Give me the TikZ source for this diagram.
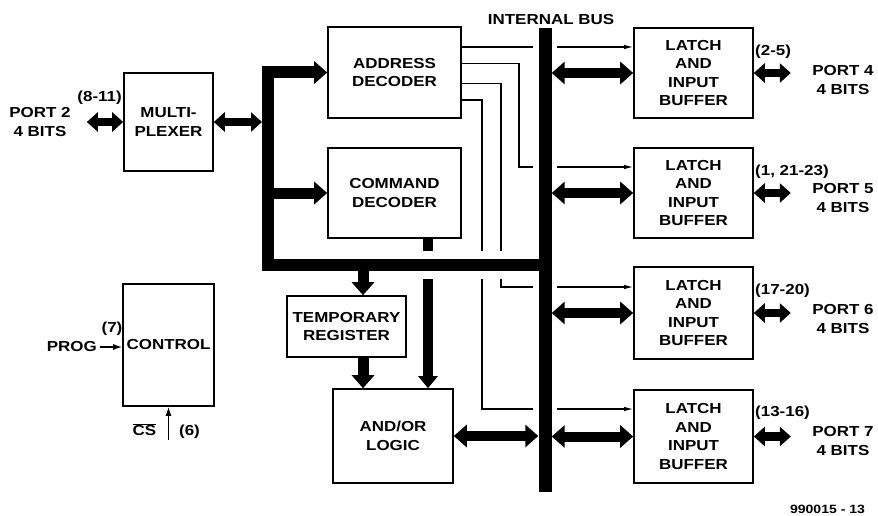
\documentclass[tikz,border=0pt]{standalone}
\usepackage{fontspec}
\setmainfont{Liberation Sans}[FakeStretch=1.17]
\usetikzlibrary{arrows.meta}
\begin{document}
\begin{tikzpicture}[x=1pt,y=-1pt,
  lbl/.style={font=\bfseries\fontsize{14.5}{18.5}\selectfont, inner sep=0pt, align=center},
  blk/.style={lbl, draw, line width=1.6pt},
  thk/.style={line width=11pt, -{Triangle[width=22pt,length=13pt]}},
  dbl/.style={line width=10pt, {Triangle[width=22pt,length=13pt]}-{Triangle[width=22pt,length=13pt]}},
  dbls/.style={line width=8.5pt, {Triangle[width=19pt,length=11pt]}-{Triangle[width=19pt,length=11pt]}},
  thn/.style={line width=1.2pt, -{Latex[length=9pt,width=4.5pt]}},
  inarr/.style={line width=1.4pt, -{Latex[length=9pt,width=6pt]}},
  halo/.style={white, line width=28pt}]
\useasboundingbox[fill=white] (0,0) rectangle (878,516);

% boxes
\node[blk, minimum width=89pt, minimum height=98pt] (mux) at (168.5,122) {MULTI-\\PLEXER};
\node[blk, minimum width=133pt, minimum height=91pt] (addr) at (394.5,72.5) {ADDRESS\\DECODER};
\node[blk, minimum width=133pt, minimum height=90pt] (cmd) at (394.5,193) {COMMAND\\DECODER};
\node[blk, minimum width=119pt, minimum height=61pt] (temp) at (346.5,326.5) {TEMPORARY\\REGISTER};
\node[blk, minimum width=120pt, minimum height=94pt] (andor) at (393,436) {AND/OR\\LOGIC};
\node[blk, minimum width=91pt, minimum height=122pt] (ctrl) at (168.5,345) {CONTROL};
\node[blk, minimum width=119pt, minimum height=90pt] (lt1) at (693.5,73) {LATCH\\AND\\INPUT\\BUFFER};
\node[blk, minimum width=119pt, minimum height=90pt] (lt2) at (693.5,193) {LATCH\\AND\\INPUT\\BUFFER};
\node[blk, minimum width=119pt, minimum height=92pt] (lt3) at (693.5,313) {LATCH\\AND\\INPUT\\BUFFER};
\node[blk, minimum width=119pt, minimum height=93pt] (lt4) at (693.5,436.5) {LATCH\\AND\\INPUT\\BUFFER};

% labels
\node[lbl] (p2) at (40,122) {PORT 2\\4 BITS};
\node[lbl, anchor=east] (n811) at (122,98) {(8-11)};
\node[lbl] (p4) at (843,80) {PORT 4\\4 BITS};
\node[lbl] (p5) at (843,198) {PORT 5\\4 BITS};
\node[lbl] (p6) at (843,319) {PORT 6\\4 BITS};
\node[lbl] (p7) at (843,441) {PORT 7\\4 BITS};
\node[lbl, anchor=west] (n25) at (755,52) {(2-5)};
\node[lbl, anchor=west] (n123) at (755,172) {(1, 21-23)};
\node[lbl, anchor=west] (n1720) at (755,291) {(17-20)};
\node[lbl, anchor=west] (n1316) at (755,413) {(13-16)};
\node[lbl] (ibus) at (551,20) {INTERNAL BUS};
\node[lbl, anchor=east] (prog) at (97,347) {PROG};
\node[lbl] (n7) at (112,329) {(7)};
\node[lbl] (cs) at (144.5,430) {$\overline{\mbox{CS}}$};
\node[lbl] (n6) at (189.5,432) {(6)};
\node[font=\bfseries\fontsize{12}{14}\selectfont, inner sep=0pt] (fig) at (827.5,509) {990015 - 13};

% helper coordinates
\path (0,47) coordinate (h1) (0,63.3) coordinate (h2) (0,83.3) coordinate (h3) (0,100) coordinate (h4)
      (0,167) coordinate (g2) (0,287) coordinate (g3) (0,409) coordinate (g4)
      (519,0) coordinate (v2) (501,0) coordinate (v3) (482,0) coordinate (v4)
      (428,0) coordinate (cx) (363,0) coordinate (tx)
      (268,265) coordinate (fc) (0,270) coordinate (fe) (262,0) coordinate (fl)
      (168.5,440) coordinate (csb);

% thin control lines from address decoder
\draw[thn] (addr.east |- h1) -- (lt1.west |- h1);
\draw[thn] (addr.east |- h2) -| (v2 |- g2) -- (lt2.west |- g2);
\draw[thn] (addr.east |- h3) -| (v3 |- g3) -- (lt3.west |- g3);
\draw[thn] (addr.east |- h4) -| (v4 |- g4) -- (lt4.west |- g4);

% command decoder to and/or logic (crosses the frame)
\draw[line width=10.5pt, -{Triangle[width=19pt,length=12pt]}] (cmd.south -| cx) -- (andor.north -| cx);

% crossing gaps
\draw[halo] (274,265) -- (545,265);
\fill[white] (533,28) rectangle (557,492);

% internal bus
\node[fill=black, inner sep=0pt, minimum width=13pt, minimum height=464pt] (bus) at (545,260) {};

% thick frame
\draw[line width=12pt, -{Triangle[width=22pt,length=13pt]}] (bus.center |- fc) -- (fc) -- (fc |- addr.west) -- (addr.west);
\draw[thk] (fc |- cmd.west) -- (cmd.west);

% thick arrows
\draw[dbls] ([xshift=16pt]p2.east |- mux.west) -- (mux.west);
\draw[dbls] (mux.east) -- (mux.east -| fl);
\draw[thk] (tx |- fe) -- (temp.north -| tx);
\draw[thk] (temp.south -| tx) -- (andor.north -| tx);
\draw[dbl] (andor.east) -- (andor.east -| bus.west);
\draw[dbl] (bus.east |- lt1.west) -- (lt1.west);
\draw[dbl] (bus.east |- lt2.west) -- (lt2.west);
\draw[dbl] (bus.east |- lt3.west) -- (lt3.west);
\draw[dbl] (bus.east |- lt4.west) -- (lt4.west);
\draw[dbls] (lt1.east) -- ([xshift=37pt]lt1.east);
\draw[dbls] (lt2.east) -- ([xshift=37pt]lt2.east);
\draw[dbls] (lt3.east) -- ([xshift=37pt]lt3.east);
\draw[dbls] (lt4.east) -- ([xshift=37pt]lt4.east);

% control inputs
\draw[inarr] ([xshift=3pt]prog.east) -- (ctrl.west |- prog.east);
\draw[inarr] (csb) -- (ctrl.south);
\end{tikzpicture}
\end{document}
